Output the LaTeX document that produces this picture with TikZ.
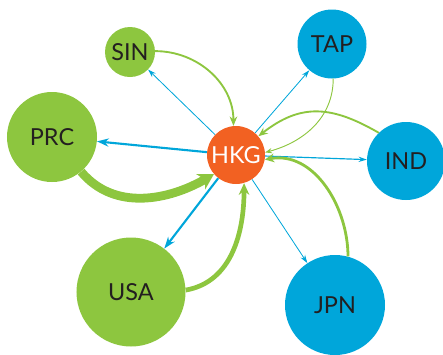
\documentclass[tikz,border=0pt]{standalone}
\usepackage{fontspec}
\setmainfont{Lato}
\usetikzlibrary{arrows.meta}

\definecolor{hkorange}{HTML}{F26122}
\definecolor{hkgreen}{HTML}{8DC63F}
\definecolor{hkblue}{HTML}{00A6DA}
\definecolor{hktext}{HTML}{231F20}

\begin{document}
\begin{tikzpicture}[
  x=0.03cm, y=0.03cm,
  city/.style={circle, inner sep=0pt, text=hktext, font=\fontsize{20}{21}\selectfont},
  outarr/.style={color=hkblue, line width=0.7pt, -{Stealth[length=7pt, width=4.5pt]}},
  outbig/.style={color=hkblue, line width=1.8pt, -{Stealth[length=10pt, width=7pt]}},
  inarr/.style={color=hkgreen, line width=1.6pt, -{Stealth[length=8pt, width=6.5pt]}},
]
\useasboundingbox (0,0) rectangle (443,-354);

% cities
\node[city, fill=hkorange, text=white, minimum size=1.74cm] (hkg) at (236,-155) {HKG};
\node[city, fill=hkgreen, minimum size=1.5cm] (sin) at (130,-52) {SIN};
\node[city, fill=hkgreen, minimum size=2.7cm] (prc) at (52,-137) {PRC};
\node[city, fill=hkgreen, minimum size=3.27cm] (usa) at (131,-292) {USA};
\node[city, fill=hkblue, minimum size=2.07cm] (tap) at (332,-44) {TAP};
\node[city, fill=hkblue, minimum size=2.34cm] (ind) at (406,-161) {IND};
\node[city, fill=hkblue, minimum size=3.0cm] (jpn) at (335,-305) {JPN};

% outgoing
\draw[outarr] (hkg) -- (sin);
\draw[outarr] (hkg) -- (tap);
\draw[outarr, line width=1pt] (hkg) -- (ind);
\draw[outarr] (hkg) -- (jpn);
\draw[outbig] (hkg) -- (prc);
\draw[outbig] (hkg) -- (usa);

% incoming
\draw[inarr] (sin.2) to[out=0, in=90] (hkg.95);
\draw[inarr, line width=0.8pt, -{Stealth[length=6pt, width=4.5pt]}] (tap.-88) to[out=-90, in=15] (hkg.5);
\draw[inarr] (ind.134) to[out=150, in=38, looseness=1.15] (hkg.40);
\draw[inarr, line width=2.4pt, -{Stealth[length=8pt, width=7.5pt]}] (jpn.75) to[out=90, in=10] (hkg.-9);
\draw[inarr, line width=4pt, -{Stealth[length=10pt, width=9pt]}] (usa.2) to[out=10, in=-90] (hkg.-74);
\draw[inarr, line width=7.5pt, -{Stealth[length=13pt, width=15pt]}] (prc.-50) to[out=-50, in=-150] (hkg.-139);
\end{tikzpicture}
\end{document}
